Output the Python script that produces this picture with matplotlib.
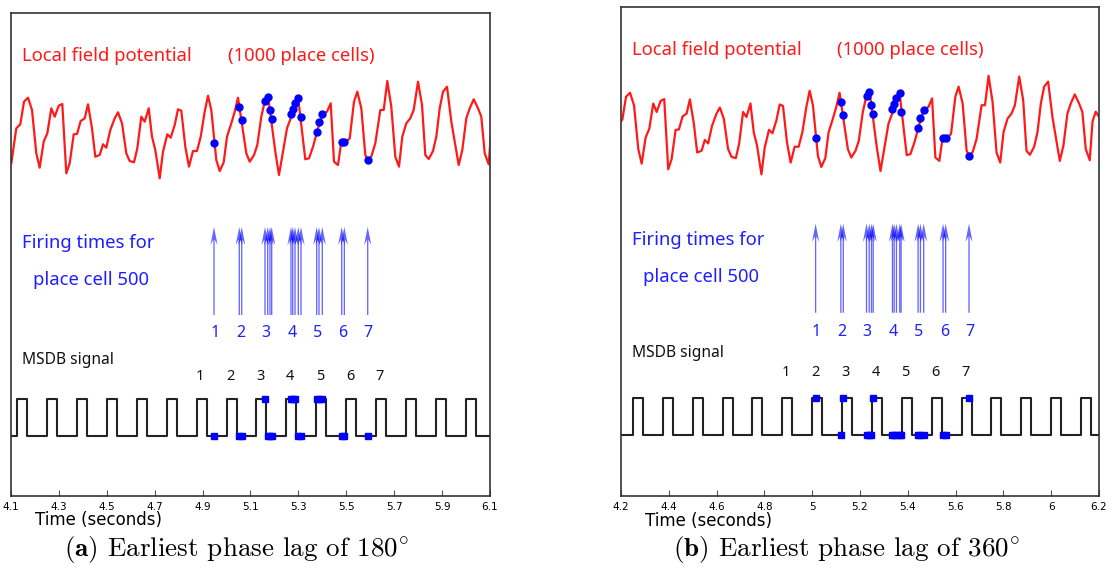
import matplotlib.pyplot as plt
import numpy as np

plt.rcParams['mathtext.fontset'] = 'cm'

# LFP trace (1000 place cells); amplitude in arbitrary units
lfp_t = np.array([
    4.1013, 4.1221, 4.1388, 4.1543, 4.1710, 4.1877, 4.2056, 4.2198, 4.2365, 4.2516,
    4.2683, 4.2825, 4.2992, 4.3142, 4.3309, 4.3451, 4.3618, 4.3756, 4.3910, 4.4077,
    4.4215, 4.4382, 4.4520, 4.4704, 4.4841, 4.4979, 4.5146, 4.5330, 4.5468, 4.5635,
    4.5814, 4.5956, 4.6136, 4.6274, 4.6441, 4.6583, 4.6750, 4.6887, 4.7025, 4.7209,
    4.7347, 4.7526, 4.7668, 4.7835, 4.7973, 4.8111, 4.8278, 4.8432, 4.8599, 4.8766,
    4.8921, 4.9088, 4.9226, 4.9363, 4.9572, 4.9714, 4.9881, 5.0019, 5.0198, 5.0340,
    5.0478, 5.0825, 5.0967, 5.1146, 5.1284, 5.1451, 5.1593, 5.1731, 5.2036, 5.2190,
    5.2357, 5.2524, 5.2679, 5.2846, 5.2983, 5.3288, 5.3443, 5.3610, 5.3777, 5.3890,
    5.4027, 5.4194, 5.4349, 5.4487, 5.4654, 5.4791, 5.5000, 5.5142, 5.5322, 5.5460,
    5.5627, 5.5794, 5.5906, 5.6052, 5.6211, 5.6420, 5.6562, 5.6712, 5.6879, 5.7046,
    5.7201, 5.7338, 5.7505, 5.7672, 5.7814, 5.7994, 5.8161, 5.8299, 5.8441, 5.8620,
    5.8758, 5.8900, 5.9038, 5.9205, 5.9385, 5.9526, 5.9693, 5.9844, 6.0011, 6.0153,
    6.0320, 6.0499, 6.0637, 6.0779, 6.0946, 6.1063, 6.1196, 6.1334])
lfp_v = np.array([
    16.7, 51.7, 55.7, 78.3, 82.3, 70.0, 26.7, 12.3, 38.3, 46.7,
    71.7, 63.3, 74.3, 76.0, 6.7, 16.7, 45.7, 46.0, 59.0, 61.7,
    75.7, 51.7, 23.3, 25.0, 35.7, 32.3, 50.0, 61.7, 67.7, 56.7,
    26.7, 19.0, 17.7, 31.7, 63.3, 58.3, 71.7, 43.3, 30.0, 1.7,
    28.3, 45.7, 42.3, 55.0, 70.7, 69.3, 33.3, 13.3, 29.0, 29.0,
    43.3, 68.3, 84.3, 70.0, 20.0, 9.0, 17.7, 43.3, 56.7, 68.3,
    82.3, 26.7, 18.3, 25.0, 35.0, 63.3, 78.3, 84.3, 28.3, 5.0,
    28.3, 51.7, 61.7, 76.7, 83.3, 20.7, 21.7, 33.3, 47.7, 57.7,
    65.7, 68.3, 76.7, 18.3, 15.0, 38.3, 38.3, 41.7, 78.3, 88.3,
    71.7, 25.0, 20.0, 24.0, 36.7, 70.0, 70.0, 99.0, 73.3, 23.3,
    13.3, 43.3, 56.7, 61.7, 70.0, 98.3, 75.0, 25.0, 21.0, 29.0,
    43.3, 71.7, 88.3, 93.3, 58.3, 38.3, 15.0, 30.0, 61.7, 71.7,
    80.7, 71.7, 63.3, 26.7, 15.7, 54.0, 63.6, 58.6])
lfp_shift_b = 0.0667  # panel (b) shows the same trace half a theta cycle later

# firing times of place cell 500 (seconds)
spikes_a = [4.9476, 5.0532, 5.0633, 5.1605, 5.1718, 5.1814, 5.1885,
            5.2691, 5.2762, 5.2858, 5.2996, 5.3109, 5.3764, 5.3860, 5.3998,
            5.4808, 5.4917, 5.5894]
spikes_b = [5.0143, 5.1199, 5.1300, 5.2272, 5.2385, 5.2481, 5.2552,
            5.3358, 5.3429, 5.3525, 5.3663, 5.3720, 5.4431, 5.4527, 5.4665,
            5.5475, 5.5584, 5.6561]
spike_lfp = [37.3, 73.3, 60.0, 79.3, 83.0, 70.0, 61.0,
             66.0, 71.0, 77.0, 82.5, 63.3, 47.7, 57.7, 65.7,
             37.7, 38.0, 20.0]
burst_t_a = [4.952, 5.060, 5.165, 5.273, 5.382, 5.486, 5.591]
burst_t_b = [5.016, 5.125, 5.230, 5.338, 5.447, 5.556, 5.660]
burst_names = ['1', '2', '3', '4', '5', '6', '7']

# MSDB pacemaker pulses
msdb_rise = [4.125, 4.25, 4.375, 4.5, 4.625, 4.75, 4.875, 5.0, 5.125, 5.25,
             5.375, 5.5, 5.625, 5.75, 5.875, 6.0, 6.125]
msdb_width = 0.0417
msdb_label_t = [4.89, 5.015, 5.14, 5.265, 5.39, 5.515, 5.64]

ticks_a = [4.1, 4.3, 4.5, 4.7, 4.9, 5.1, 5.3, 5.5, 5.7, 5.9, 6.1]
ticklabels_a = ['4.1', '4.3', '4.5', '4.7', '4.9', '5.1', '5.3', '5.5', '5.7', '5.9', '6.1']
ticks_b = [4.2, 4.4, 4.6, 4.8, 5.0, 5.2, 5.4, 5.6, 5.8, 6.0, 6.2]
ticklabels_b = ['4.2', '4.4', '4.6', '4.8', '5', '5.2', '5.4', '5.6', '5.8', '6', '6.2']

RED = '#ff1a1a'
BLUE = '#1f1fff'
LFP_BASE = 316
SQ_LOW, SQ_HIGH = 60, 97
TXT = 'Noto Sans'


def draw_panel(ax, t0, t1, lfp_time, spikes, burst_t, ticks, ticklabels,
               msdb_txt_y, msdb_num_y, burst_num_y):
    ax.set_xlim(t0, t1)
    ax.set_ylim(0, 483)

    ax.plot(lfp_time, LFP_BASE + lfp_v, color=RED, lw=1.6, zorder=2)
    ax.plot(spikes, LFP_BASE + np.array(spike_lfp), 'o', color='blue', ms=5, zorder=3)

    for s in spikes:
        ax.arrow(s, 181, 0, 88, width=0.0055, head_width=0.03, head_length=18,
                 length_includes_head=True, overhang=0.3, fc='blue', ec='none',
                 alpha=0.6, zorder=2)
    for t, n in zip(burst_t, burst_names):
        ax.text(t, burst_num_y, n, color=BLUE, fontsize=11.5, family=TXT,
                ha='center', va='center')

    xs, ys = [t0], [SQ_LOW]
    for r in msdb_rise:
        if r < t1:
            xs += [r, r, r + msdb_width, r + msdb_width]
            ys += [SQ_LOW, SQ_HIGH, SQ_HIGH, SQ_LOW]
    xs.append(t1)
    ys.append(SQ_LOW)
    ax.plot(xs, ys, color='#222222', lw=1.5, zorder=2)
    state = [SQ_HIGH if any(r <= s < r + msdb_width for r in msdb_rise) else SQ_LOW
             for s in spikes]
    ax.plot(spikes, state, 's', color='blue', ms=4.5, zorder=3)
    for t, n in zip(msdb_label_t, burst_names):
        ax.text(t, msdb_num_y, n, color='#111111', fontsize=10.5, family=TXT,
                ha='center', va='center')

    ax.text(0.023, 0.912, 'Local field potential', color=RED, fontsize=13.3,
            family=TXT, transform=ax.transAxes, va='center')
    ax.text(0.452, 0.912, '(1000 place cells)', color=RED, fontsize=13.3,
            family=TXT, transform=ax.transAxes, va='center')
    ax.text(0.023, 0.524, 'Firing times for', color=BLUE, fontsize=13.3,
            family=TXT, transform=ax.transAxes, va='center')
    ax.text(0.045, 0.447, 'place cell 500', color=BLUE, fontsize=13.3,
            family=TXT, transform=ax.transAxes, va='center')
    ax.text(0.023, msdb_txt_y, 'MSDB signal', color='#111111', fontsize=11.2,
            family=TXT, transform=ax.transAxes, va='center')

    ax.set_xticks(ticks)
    ax.set_xticklabels(ticklabels, fontsize=7.5)
    ax.set_yticks([])
    ax.tick_params(axis='x', direction='in', length=4, width=0.8, color='#555555', pad=4)
    for sp in ax.spines.values():
        sp.set_linewidth(1.2)
        sp.set_color('#333333')
    ax.set_xlabel('Time (seconds)', fontsize=12)
    ax.xaxis.set_label_coords(0.05, -0.032)
    ax.xaxis.label.set_ha('left')
    ax.xaxis.label.set_va('top')


fig = plt.figure(figsize=(11.18, 5.78), dpi=100)
ax1 = fig.add_axes([11 / 1118, 82 / 578, 479 / 1118, 483 / 578])
ax2 = fig.add_axes([621 / 1118, 82 / 578, 478 / 1118, 489 / 578])

draw_panel(ax1, 4.1, 6.1, lfp_t, spikes_a, burst_t_a, ticks_a, ticklabels_a,
           0.282, 119, 163)
draw_panel(ax2, 4.2, 6.2, lfp_t + lfp_shift_b, spikes_b, burst_t_b, ticks_b, ticklabels_b,
           0.292, 121.5, 162)

fig.text(0.2117, 0.05, r'$\mathbf{(a)}$ Earliest phase lag of $180^{\circ}$',
         family='cmr10', fontsize=19.5, ha='center', va='center')
fig.text(0.757, 0.05, r'$\mathbf{(b)}$ Earliest phase lag of $360^{\circ}$',
         family='cmr10', fontsize=19.5, ha='center', va='center')

fig.savefig('out.png', dpi=100)
